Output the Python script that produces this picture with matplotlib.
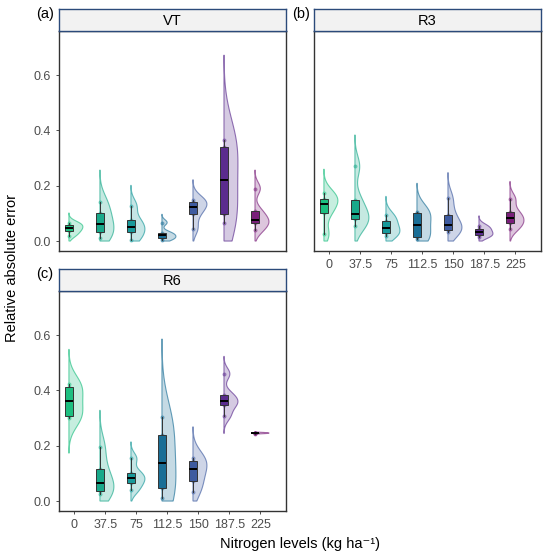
import numpy as np
import matplotlib
matplotlib.use("Agg")
import matplotlib.pyplot as plt
from matplotlib.patches import Polygon
from matplotlib.colors import to_rgba

plt.rcParams['font.family'] = ['Liberation Sans', 'DejaVu Sans']

levels = ["0", "37.5", "75", "112.5", "150", "187.5", "225"]
colors = ["#1DBF80", "#19A98A", "#18999A", "#1A6E96", "#3E5BA0", "#5B2C8E", "#7A1F7A"]

# relative absolute error per nitrogen level
vt = [
    [0.020, 0.036, 0.046, 0.058, 0.065],
    [0.012, 0.032, 0.063, 0.100, 0.143],
    [0.004, 0.032, 0.051, 0.076, 0.128],
    [0.005, 0.012, 0.022, 0.030, 0.067],
    [0.045, 0.097, 0.125, 0.140, 0.150],
    [0.064, 0.097, 0.220, 0.340, 0.365],
    [0.040, 0.067, 0.076, 0.107, 0.190],
]
r3 = [
    [0.024, 0.100, 0.135, 0.152, 0.173],
    [0.055, 0.079, 0.097, 0.147, 0.270],
    [0.020, 0.028, 0.047, 0.073, 0.093],
    [0.008, 0.015, 0.059, 0.103, 0.105],
    [0.033, 0.039, 0.058, 0.095, 0.154],
    [0.016, 0.021, 0.032, 0.045, 0.055],
    [0.045, 0.067, 0.083, 0.105, 0.152],
]
r6 = [
    [0.300, 0.309, 0.361, 0.412, 0.422],
    [0.027, 0.036, 0.067, 0.115, 0.196],
    [0.039, 0.067, 0.084, 0.103, 0.154],
    [0.010, 0.046, 0.139, 0.240, 0.305],
    [0.034, 0.073, 0.115, 0.145, 0.155],
    [0.308, 0.347, 0.361, 0.385, 0.460],
    [0.244, 0.245, 0.246, 0.247, 0.248],
]

W, H = 550, 558
fig = plt.figure(figsize=(W / 100, H / 100), dpi=100)


def rect(x0, y0, x1, y1):
    return [x0 / W, 1 - y1 / H, (x1 - x0) / W, (y1 - y0) / H]


def nrd0(v):
    v = np.asarray(v)
    sd = v.std(ddof=1)
    iqr = np.subtract(*np.percentile(v, [75, 25])) / 1.34
    s = min(sd, iqr) if iqr > 0 else sd
    return 0.9 * s * len(v) ** -0.2


def draw_panel(ax, data, xlabels, ylabels):
    for i, vals in enumerate(data):
        vals = np.asarray(vals)
        c = colors[i]
        bw = nrd0(vals) * 1.15
        lo = max(0.0, vals.min() - 3 * bw)
        hi = vals.max() + 3 * bw
        ys = np.linspace(lo, hi, 300)
        dens = np.exp(-0.5 * ((ys[:, None] - vals[None, :]) / bw) ** 2).sum(axis=1)
        w = dens / dens.max() * 0.45
        pts = np.column_stack([np.r_[i, i + w, i], np.r_[lo, ys, hi]])
        ax.add_patch(Polygon(pts, closed=True, facecolor=to_rgba(c, 0.25),
                             edgecolor=to_rgba(c, 0.65), lw=0.8, zorder=1))
        ax.scatter(np.full(len(vals), i), vals, s=8, color=c, alpha=0.55,
                   lw=0, zorder=2)
        bp = ax.boxplot([vals], positions=[i], widths=0.28, patch_artist=True,
                        showfliers=False, whis=1.5, manage_ticks=False,
                        zorder=3)
        for b in bp['boxes']:
            b.set_facecolor(c)
            b.set_edgecolor("#333333")
            b.set_linewidth(0.7)
        for wl in bp['whiskers']:
            wl.set_color("#333333")
            wl.set_linewidth(0.7)
        for cp in bp['caps']:
            cp.set_visible(False)
        for m in bp['medians']:
            m.set_color("black")
            m.set_linewidth(1.4)

    ax.set_xlim(-0.32, 7.0)
    ax.set_ylim(-0.036, 0.76)
    ax.set_yticks([0.0, 0.2, 0.4, 0.6])
    ax.set_xticks(np.arange(7) + 0.17)
    for s in ax.spines.values():
        s.set_color("#333333")
        s.set_linewidth(1.0)
    ax.tick_params(colors="#333333", labelcolor="#4D4D4D", labelsize=9,
                   length=2.5, width=0.6, pad=3)
    if xlabels:
        ax.set_xticklabels(levels)
    else:
        ax.tick_params(axis="x", bottom=False, labelbottom=False)
    if ylabels:
        ax.set_yticklabels(["0.0", "0.2", "0.4", "0.6"])
    else:
        ax.tick_params(axis="y", left=False, labelleft=False)


def draw_strip(r, text):
    sa = fig.add_axes(r)
    sa.set_facecolor("#F2F2F2")
    sa.set_xticks([])
    sa.set_yticks([])
    for s in sa.spines.values():
        s.set_color("#2B4A7A")
        s.set_linewidth(1.0)
    sa.text(0.5, 0.45, text, ha="center", va="center", fontsize=10.5,
            transform=sa.transAxes)


panels = [
    (vt, "VT", "(a)", 59, 286, 9, 31, 251, False, True, 36),
    (r3, "R3", "(b)", 314, 541, 9, 31, 251, True, False, 292),
    (r6, "R6", "(c)", 59, 286, 269, 291, 511, True, True, 36),
]
for data, name, tag, x0, x1, ys, yt, yb, xl, yl, tx in panels:
    ax = fig.add_axes(rect(x0, yt, x1, yb))
    draw_panel(ax, data, xl, yl)
    draw_strip(rect(x0, ys, x1, yt), name)
    fig.text(tx / W, 1 - 14 / H - (ys - 9) / H, tag, fontsize=10.5,
             ha="left", va="center")

fig.text(12 / W, 1 - 268 / H, "Relative absolute error", rotation=90,
         fontsize=10.5, ha="center", va="center")
fig.text(300 / W, 1 - 544 / H, "Nitrogen levels (kg ha\u207b\u00b9)",
         fontsize=10.5, ha="center", va="center")

fig.savefig("out.png", dpi=100)
